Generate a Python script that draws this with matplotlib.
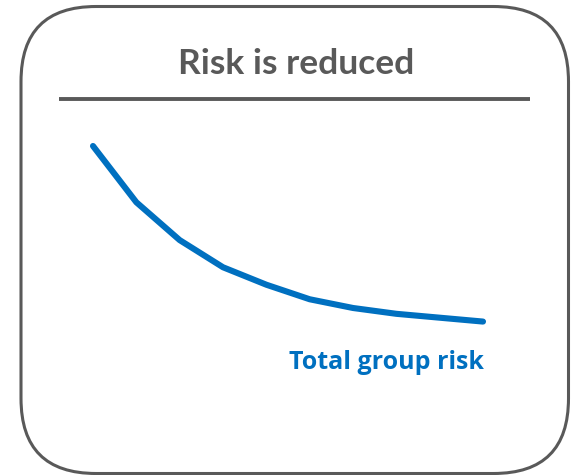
import matplotlib
matplotlib.use("Agg")
import matplotlib.pyplot as plt
from matplotlib.patches import FancyBboxPatch

# Total group risk over successive steps (relative units)
steps = list(range(10))
group_risk = [100, 71, 51.5, 37.5, 28.5, 21, 16.5, 13.5, 11.5, 9.5]

title_text = "Risk is reduced"
series_label = "Total group risk"

W, H = 573, 475
fig = plt.figure(figsize=(W / 100, H / 100), dpi=100)
fig.patch.set_facecolor("white")

# Overlay in pixel units for the frame, title and rule
deco = fig.add_axes([0, 0, 1, 1])
deco.set_xlim(0, W)
deco.set_ylim(H, 0)
deco.axis("off")

gray = "#595959"
blue = "#0070C0"

frame = FancyBboxPatch((21, 6.5), 547.5, 467,
                       boxstyle="round,pad=0,rounding_size=75",
                       facecolor="white", edgecolor=gray, linewidth=2.2)
deco.add_patch(frame)

deco.plot([59, 530], [99, 99], color=gray, linewidth=2.8, solid_capstyle="butt")

deco.text(296, 73.5, title_text, ha="center", va="baseline",
          fontsize=25.5, fontweight="bold", color=gray, family="Lato")

deco.text(484, 369, series_label, ha="right", va="baseline",
          fontsize=18, fontweight="bold", color=blue, family="Open Sans")

# Risk curve
ax = fig.add_axes([93 / W, (H - 340) / H, 390 / W, 194 / H])
ax.set_xlim(0, 9)
ax.set_ylim(0, 100)
ax.axis("off")
ax.patch.set_alpha(0)
ax.plot(steps, group_risk, color=blue, linewidth=4.4,
        solid_capstyle="round", solid_joinstyle="round", clip_on=False)

fig.savefig("out.png", dpi=100, facecolor="white")
